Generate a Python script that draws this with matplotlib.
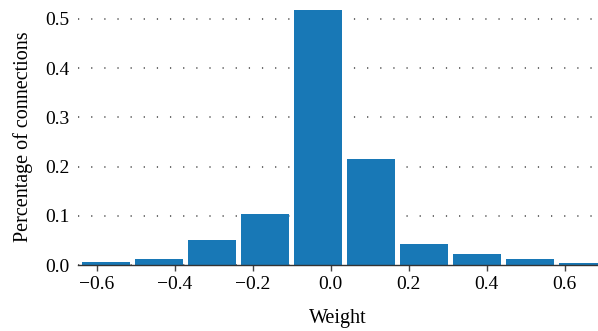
import matplotlib.pyplot as plt

# histogram of connection weights (bin centres)
bin_centres = [-0.577, -0.441, -0.305, -0.169, -0.033, 0.103, 0.239, 0.375, 0.511, 0.647]
fractions = [0.006, 0.013, 0.052, 0.104, 0.518, 0.215, 0.043, 0.022, 0.013, 0.004]
bin_width = 0.136

xticks = [-0.6, -0.4, -0.2, 0.0, 0.2, 0.4, 0.6]
yticks = [0.0, 0.1, 0.2, 0.3, 0.4, 0.5]

plt.rcParams['font.family'] = ['Liberation Serif', 'DejaVu Serif']

fig = plt.figure(figsize=(5.98, 3.31), dpi=100)
ax = fig.add_axes([0.130, 0.199, 0.870, 0.777])

ax.bar(bin_centres, fractions, width=bin_width * 0.9, color='#1878b6', zorder=2)

ax.set_xlim(-0.649, 0.685)
ax.set_ylim(0, 0.522)
ax.set_xticks(xticks)
ax.set_xticklabels(['\u22120.6', '\u22120.4', '\u22120.2', '0.0', '0.2', '0.4', '0.6'])
ax.set_yticks(yticks)

ax.yaxis.grid(True, color='#444444', linestyle=(0, (0.8, 7.8)), linewidth=1.1, zorder=1)
ax.set_axisbelow(True)

ax.tick_params(axis='x', direction='out', length=4, width=1, color='#444444',
               labelsize=14, pad=4)
ax.tick_params(axis='y', length=0, labelsize=14, pad=6)

ax.spines[['top', 'right', 'left']].set_visible(False)
ax.spines['bottom'].set_color('#333333')
ax.spines['bottom'].set_linewidth(1.0)

ax.set_xlabel('Weight', fontsize=14.5, labelpad=11)
ax.set_ylabel('Percentage of connections', fontsize=14.5, labelpad=9)

fig.savefig('out.png', dpi=100)
